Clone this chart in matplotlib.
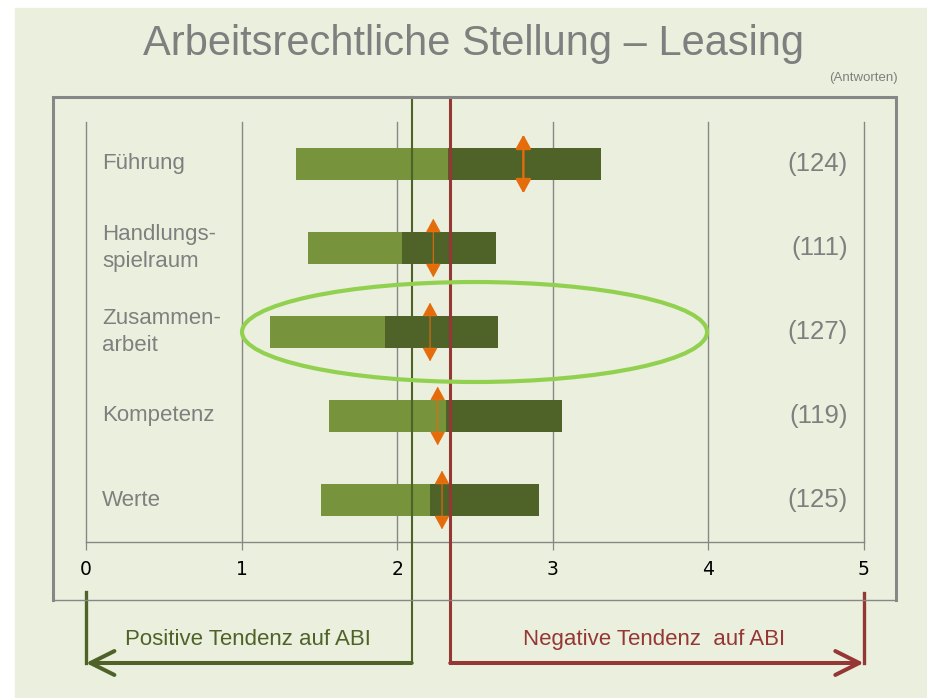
import matplotlib.pyplot as plt
from matplotlib.patches import Ellipse, Rectangle
from matplotlib.lines import Line2D

plt.rcParams['font.family'] = ['Liberation Sans', 'DejaVu Sans']

# data
categories = ["Führung", "Handlungs-\nspielraum", "Zusammen-\narbeit", "Kompetenz", "Werte"]
counts = ["(124)", "(111)", "(127)", "(119)", "(125)"]
bar_start = [1.350, 1.427, 1.183, 1.562, 1.511]
bar_split = [2.327, 2.032, 1.922, 2.315, 2.212]
bar_end = [3.311, 2.636, 2.647, 3.060, 2.911]
mean_val = [2.812, 2.233, 2.212, 2.261, 2.289]
pos_line = 2.094
neg_line = 2.342
x_ticks = [0, 1, 2, 3, 4, 5]

# colours
BG = "#ebf0de"
GRAY = "#878787"
TXT = "#7f7f7f"
LIGHT = "#77933c"
DARK = "#4f6228"
ORANGE = "#e46c0a"
RED = "#953735"
ELL = "#92d050"

W, H = 928, 698


def fx(x):
    return x / W


def fy(y):
    return 1 - y / H


fig = plt.figure(figsize=(9.28, 6.98), dpi=100)
fig.patch.set_facecolor("white")
fig.patches.append(Rectangle((fx(15), 0), 1, fy(8), transform=fig.transFigure,
                             color=BG, zorder=-10))

# outer frame
fig.add_artist(Line2D([fx(53), fx(53), fx(896), fx(896)], [fy(600), fy(97), fy(97), fy(600)],
                      color=GRAY, lw=2.2, solid_joinstyle="miter"))
fig.add_artist(Line2D([fx(53), fx(896)], [fy(600), fy(600)], color=GRAY, lw=1))

ax = fig.add_axes([fx(86), fy(542), fx(863.7 - 86), (542 - 122) / H])
ax.set_facecolor("none")
ax.set_xlim(0, 5)
ax.set_ylim(4.5, -0.5)
ax.set_xticks(x_ticks)
ax.set_yticks([])
for s in ["top", "right", "left"]:
    ax.spines[s].set_visible(False)
ax.spines["bottom"].set_color(GRAY)
ax.spines["bottom"].set_linewidth(1)
ax.tick_params(axis="x", length=5.8, width=0.9, color=GRAY, pad=7,
               labelsize=13.5, labelcolor="black")
for lab in ax.get_xticklabels():
    lab.set_family("DejaVu Sans")
ax.grid(axis="x", color=GRAY, lw=1)
for gl in ax.get_xgridlines():
    gl.set_clip_on(False)
ax.set_axisbelow(True)

y = list(range(len(categories)))
ax.barh(y, [s - a for a, s in zip(bar_start, bar_split)], left=bar_start,
        height=0.39, color=LIGHT, zorder=2)
ax.barh(y, [e - s for s, e in zip(bar_split, bar_end)], left=bar_split,
        height=0.39, color=DARK, zorder=2)

arrow_lw = [1.7, 0.8, 0.8, 0.8, 0.8]
for i, m in enumerate(mean_val):
    ax.annotate("", xy=(m, i - 0.35), xytext=(m, i + 0.35),
                arrowprops=dict(arrowstyle="<|-|>,head_length=8.6,head_width=4.7",
                                mutation_scale=1, lw=arrow_lw[i], color=ORANGE,
                                shrinkA=0, shrinkB=0),
                annotation_clip=False, zorder=4)

for i, (cat, cnt) in enumerate(zip(categories, counts)):
    ax.text(0.103, i, cat, ha="left", va="center", fontsize=16, color=TXT,
            linespacing=1.35)
    ax.text(4.899, i, cnt, ha="right", va="center", fontsize=18.5, color=TXT)

# highlight ellipse
ax.add_patch(Ellipse((2.498, 2.0), 2.99, 1.19, fill=False, ec=ELL, lw=3.0,
                     clip_on=False, zorder=5))


def py(p):
    return -0.5 + (p - 122) / 84


# tendency lines and arrows
ax.plot([pos_line, pos_line], [py(97), py(663)], color=DARK, lw=1.5, clip_on=False, zorder=3)
ax.plot([neg_line, neg_line], [py(97), py(663)], color=RED, lw=2.2, clip_on=False, zorder=3)
ax.plot([0, 0], [py(592), py(663)], color=DARK, lw=2.4, clip_on=False)
ax.plot([5, 5], [py(593), py(663)], color=RED, lw=2.4, clip_on=False)
ax.annotate("", xy=(0, py(663)), xytext=(pos_line, py(663)),
            arrowprops=dict(arrowstyle="->", mutation_scale=43, lw=2.9, color=DARK,
                            shrinkA=0, shrinkB=0),
            annotation_clip=False)
ax.annotate("", xy=(5, py(663)), xytext=(neg_line, py(663)),
            arrowprops=dict(arrowstyle="->", mutation_scale=43, lw=2.9, color=RED,
                            shrinkA=0, shrinkB=0),
            annotation_clip=False)

fig.text(fx(248), fy(645), "Positive Tendenz auf ABI", ha="center", va="baseline",
         fontsize=16, color=DARK)
fig.text(fx(654), fy(645), "Negative Tendenz  auf ABI", ha="center", va="baseline",
         fontsize=16, color=RED)

fig.text(fx(474), fy(55), "Arbeitsrechtliche Stellung \u2013 Leasing", ha="center",
         va="baseline", fontsize=30, color=TXT)
fig.text(fx(898), fy(81), "(Antworten)", ha="right", va="baseline", fontsize=9.5, color=TXT)

fig.savefig("out.png", dpi=100, facecolor=fig.get_facecolor())
